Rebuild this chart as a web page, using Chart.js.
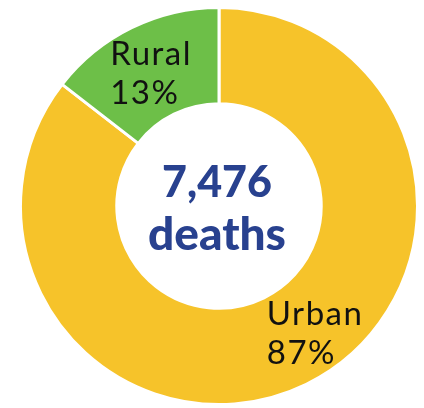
<!DOCTYPE html>
<html>
<head>
<meta charset="utf-8">
<script src="https://cdn.jsdelivr.net/npm/chart.js@4"></script>
<style>
html,body{margin:0;padding:0;background:#fff;}
#wrap{width:424px;height:408px;position:relative;}
</style>
</head>
<body>
<div id="wrap"><canvas id="c" width="424" height="408"></canvas></div>
<script>
// Data
const categories = ['Urban', 'Rural'];
const sliceValues = [85.5, 14.5];        // arc sizes as drawn
const percentLabels = ['87%', '13%'];    // printed labels
const totalLabel = '7,476';
const totalUnit = 'deaths';
const colors = ['#F6C32A', '#6DBF48'];

const labelPlugin = {
  id: 'labels',
  afterDraw(chart) {
    const meta = chart.getDatasetMeta(0);
    const arc = meta.data[0];
    const cx = arc.x, cy = arc.y, R = arc.outerRadius;
    const ctx = chart.ctx;
    ctx.save();
    // slice labels
    ctx.fillStyle = '#111111';
    ctx.font = '400 33px Lato';
    ctx.letterSpacing = '1.5px';
    ctx.textAlign = 'left';
    ctx.textBaseline = 'alphabetic';
    const pos = [
      {dx: 0.241, dy: 0.598},   // Urban
      {dx: -0.548, dy: -0.709}  // Rural
    ];
    const lh = 0.196 * R;
    categories.forEach((name, i) => {
      const x = cx + pos[i].dx * R, y = cy + pos[i].dy * R;
      ctx.fillText(name, x, y);
      ctx.fillText(percentLabels[i], x, y + lh);
    });
    // center text
    ctx.letterSpacing = '0px';
    ctx.fillStyle = '#28418F';
    ctx.textAlign = 'center';
    ctx.font = '900 43px Lato';
    ctx.fillText(totalLabel, cx - 2, cy - 9);
    ctx.font = '900 46px Lato';
    ctx.fillText(totalUnit, cx - 2, cy + 44);
    ctx.restore();
  }
};

new Chart(document.getElementById('c'), {
  type: 'doughnut',
  data: {
    labels: categories,
    datasets: [{
      data: sliceValues,
      backgroundColor: colors,
      borderColor: '#ffffff',
      borderWidth: 3,
      hoverOffset: 0
    }]
  },
  options: {
    responsive: false,
    animation: false,
    cutout: '51.5%',
    rotation: 0,
    layout: {padding: {top: 6, bottom: 2, left: 19, right: 5}},
    plugins: {legend: {display: false}, tooltip: {enabled: false}}
  },
  plugins: [labelPlugin]
});
</script>
</body>
</html>
